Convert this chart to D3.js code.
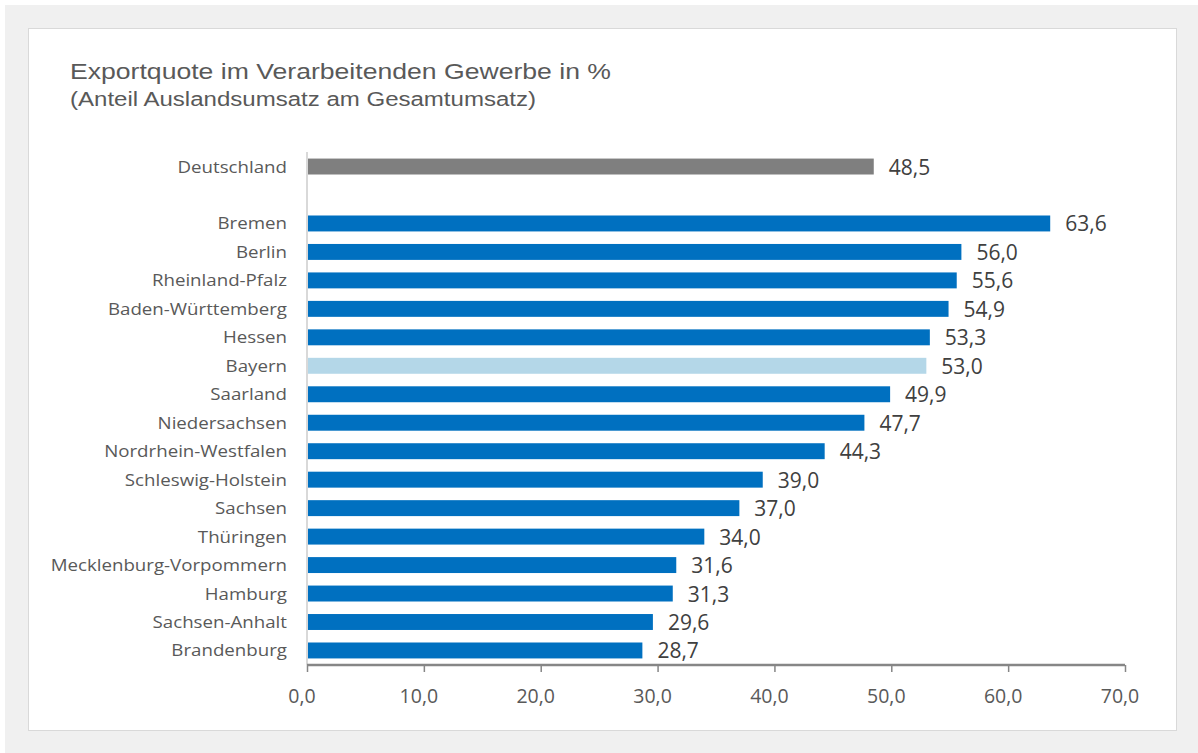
<!DOCTYPE html>
<html><head><meta charset="utf-8">
<script src="https://cdn.jsdelivr.net/npm/d3@7"></script>
<style>body{margin:0;background:#fff;}svg{display:block;}</style>
</head><body>
<svg id="c" width="1198" height="753"></svg>
<script>
const categories = ["Deutschland","","Bremen","Berlin","Rheinland-Pfalz","Baden-Württemberg","Hessen","Bayern","Saarland","Niedersachsen","Nordrhein-Westfalen","Schleswig-Holstein","Sachsen","Thüringen","Mecklenburg-Vorpommern","Hamburg","Sachsen-Anhalt","Brandenburg"];
const values = [48.5,null,63.6,56.0,55.6,54.9,53.3,53.0,49.9,47.7,44.3,39.0,37.0,34.0,31.6,31.3,29.6,28.7];
const xTicks = [0,10,20,30,40,50,60,70];
const title = "Exportquote im Verarbeitenden Gewerbe in %";
const subtitle = "(Anteil Auslandsumsatz am Gesamtumsatz)";

const svg = d3.select("#c");
svg.append("rect").attr("x",5).attr("y",5).attr("width",1193).attr("height",748).attr("fill","#f0f0f0");
svg.append("rect").attr("x",28.5).attr("y",28.5).attr("width",1148).attr("height",702).attr("fill","#fff").attr("stroke","#d9d9d9").attr("stroke-width",1);

svg.append("text").attr("x",70).attr("y",79).attr("font-family","'Liberation Sans',Arial,sans-serif").attr("font-size",22.5)
  .attr("textLength",541).attr("lengthAdjust","spacingAndGlyphs").attr("fill","#595959").text(title);
svg.append("text").attr("x",70).attr("y",106).attr("font-family","'Liberation Sans',Arial,sans-serif").attr("font-size",19.5)
  .attr("textLength",466).attr("lengthAdjust","spacingAndGlyphs").attr("fill","#595959").text(subtitle);

const x = d3.scaleLinear().domain([0,70]).range([307,1125]);
const y = d3.scaleBand().domain(categories.map((c,i)=>i)).range([152.3,664.7]).paddingInner(0.44).paddingOuter(0.22);

const fmt = v => d3.format(".1f")(v).replace(".",",");

// vertical axis line
svg.append("line").attr("x1",307).attr("x2",307).attr("y1",152).attr("y2",665).attr("stroke","#d9d9d9").attr("stroke-width",2);

const data = categories.map((c,i)=>({c,i,v:values[i]}));
const color = d => d.c==="Deutschland" ? "#7f7f7f" : (d.c==="Bayern" ? "#b4d7e8" : "#0070c0");

svg.selectAll("rect.bar").data(data.filter(d=>d.v!=null)).join("rect").attr("class","bar")
  .attr("x",x(0)+1).attr("y",d=>y(d.i)).attr("height",y.bandwidth())
  .attr("width",d=>x(d.v)-x(0)-1).attr("fill",color);

svg.selectAll("text.val").data(data.filter(d=>d.v!=null)).join("text").attr("class","val")
  .attr("x",d=>x(d.v)+15).attr("y",d=>y(d.i)+y.bandwidth()/2+8)
  .attr("font-family","'Open Sans',sans-serif").attr("font-size",21).attr("fill","#404040")
  .text(d=>fmt(d.v));

const sx = 1.1;
svg.selectAll("text.cat").data(data.filter(d=>d.c)).join("text").attr("class","cat")
  .attr("transform",d=>`translate(287,${y(d.i)+y.bandwidth()/2+6}) scale(${sx},1)`)
  .attr("text-anchor","end")
  .attr("font-family","'Open Sans',sans-serif").attr("font-size",17).attr("fill","#595959")
  .text(d=>d.c);

const ax = svg.append("g").attr("transform","translate(0,665)")
  .call(d3.axisBottom(x).tickValues(xTicks).tickSize(7).tickPadding(17).tickFormat(fmt));
ax.select(".domain").attr("stroke","#868686").attr("stroke-width",2.5).attr("d","M307,0H1125");
ax.selectAll(".tick line").attr("stroke","#868686").attr("stroke-width",1.5);
ax.selectAll(".tick text").attr("dx",-5.5).attr("font-family","'Open Sans',sans-serif").attr("font-size",19.5).attr("fill","#595959");
</script>
</body></html>
